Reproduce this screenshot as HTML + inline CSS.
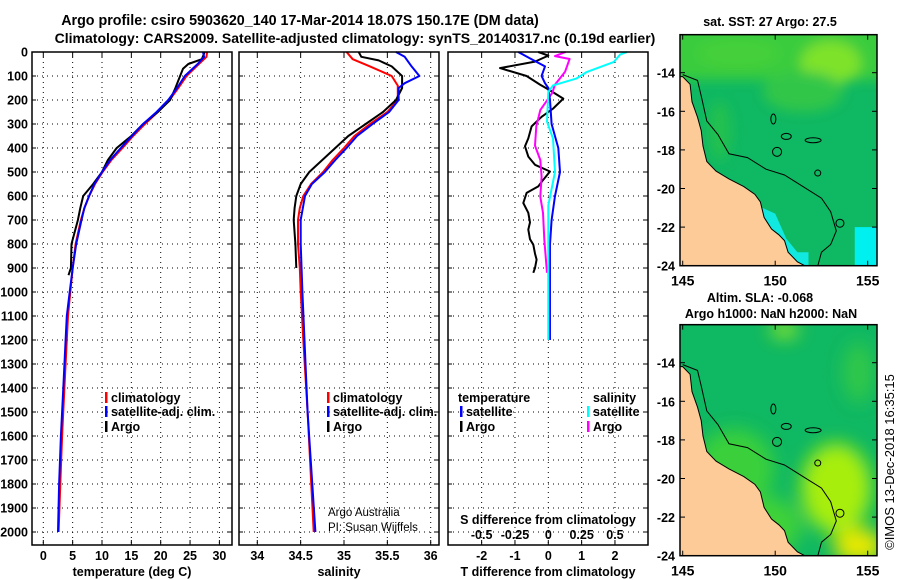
<!DOCTYPE html>
<html><head><meta charset="utf-8"><style>
html,body{margin:0;padding:0;background:#fff}
svg{display:block}
text{font-family:"Liberation Sans",Arial,sans-serif;font-weight:bold;font-size:12.5px;fill:#000}
</style></head><body>
<svg id="fig" width="900" height="580" viewBox="0 0 900 580" xmlns="http://www.w3.org/2000/svg">
<text x="300" y="25" text-anchor="middle" style="font-size:14.3px">Argo profile: csiro 5903620_140 17-Mar-2014 18.07S 150.17E (DM data)</text>
<text x="355" y="43" text-anchor="middle" style="font-size:14px">Climatology: CARS2009. Satellite-adjusted climatology: synTS_20140317.nc (0.19d earlier)</text>
<text x="770" y="26" text-anchor="middle">sat. SST: 27 Argo: 27.5</text>
<text x="760" y="302" text-anchor="middle">Altim. SLA: -0.068</text>
<text x="771" y="318" text-anchor="middle">Argo h1000: NaN h2000: NaN</text>
<text transform="translate(894,462) rotate(-90)" text-anchor="middle" style="font-weight:normal;font-size:13px">©IMOS 13-Dec-2018 16:35:15</text>
<text x="328" y="516" style="font-weight:normal;font-size:11.5px">Argo Australia</text>
<text x="328" y="531" style="font-weight:normal;font-size:11.5px">PI: Susan Wijffels</text>
</svg>
<script>
// ---- data (depth m, value) ----
const tDepth = [0,20,50,100,150,200,250,300,350,400,450,500,550,600,650,700,800,900,1000,1100,1200,1400,1600,1800,2000];
const tClim  = [27.9,27.8,26.5,24.4,23,21.5,19.5,17.3,15.3,13.5,11.6,10.1,8.8,7.8,7.0,6.4,5.5,5.0,4.6,4.2,4.0,3.6,3.2,2.9,2.6];
const tSat   = [27.2,27.4,26.3,24.1,22.8,21.3,19.3,17.0,15.1,13.2,11.4,10.0,8.7,7.8,7.0,6.5,5.6,5.0,4.5,4.0,3.8,3.4,3.0,2.7,2.5];
const tArgoDepth = [0,30,50,70,100,150,200,250,300,350,400,450,500,550,600,650,700,800,900,930];
const tArgo  = [27.5,27,24.7,23.8,23.3,22.5,21.6,19.5,17,15,12.5,11,10,8.5,6.8,6.3,5.9,4.8,4.7,4.3];

const sDepth = [0,30,60,100,140,200,250,300,350,400,450,500,550,600,650,700,800,900,1000,1200,1500,2000];
const sClim  = [35.03,35.1,35.3,35.55,35.62,35.62,35.5,35.3,35.12,35.0,34.87,34.76,34.62,34.53,34.49,34.47,34.47,34.49,34.5,34.53,34.58,34.65];
const sSatDepth = [0,20,60,100,130,150,200,250,300,350,400,450,500,550,600,700,800,1000,1500,2000];
const sSat   = [35.6,35.7,35.78,35.87,35.7,35.63,35.63,35.52,35.33,35.15,35.03,34.9,34.78,34.63,34.55,34.5,34.5,34.52,34.58,34.67];
const sArgoDepth = [0,20,35,60,100,150,200,250,300,350,400,450,500,550,600,650,700,800,900];
const sArgo  = [35.17,35.2,35.4,35.55,35.67,35.67,35.6,35.45,35.25,35.05,34.9,34.75,34.6,34.5,34.45,34.43,34.42,34.44,34.45];

const dTSatDepth = [0,30,60,80,100,130,150,200,300,400,500,600,700,800,1000,1200];
const dTSat  = [-0.9,-0.5,-0.1,-0.15,-0.2,-0.1,0,0.05,0.1,0.3,0.35,0.2,0.1,0.05,0.05,0.05];
const dTArgoDepth = [0,15,40,67,100,136,160,194,235,270,310,360,393,436,470,498,532,560,587,629,670,710,740,780,803,840,865,900,920];
const dTArgo = [-0.3,0,-0.4,-1.45,-0.65,-0.25,0.05,0.45,0.15,-0.2,-0.5,-0.6,-0.7,-0.6,-0.4,0.05,-0.15,-0.3,-0.65,-0.75,-0.6,-0.55,-0.6,-0.55,-0.45,-0.4,-0.35,-0.4,-0.45];
const dSSatDepth = [0,10,42,83,111,139,167,290,361,500,639,800,1000,1200];
const dSSat  = [0.59,0.54,0.49,0.29,0.21,0.035,0,-0.01,0.035,0.05,0,0,0,0];
const dSArgoDepth = [0,17,29,83,136,170,242,310,390,450,520,603,670,781,920];
const dSArgo = [0.13,0.05,0.16,0.125,0.05,0.03,-0.06,-0.09,-0.1,-0.06,-0.05,-0.06,-0.04,-0.03,-0.01];

const depthTicks = [0,100,200,300,400,500,600,700,800,900,1000,1100,1200,1300,1400,1500,1600,1700,1800,1900,2000];
const tTicks = [0,5,10,15,20,25,30];
const sTicks = [34,34.5,35,35.5,36];
const dTTicks = [-2,-1,0,1,2];
const dSTicks = ["-0.5","-0.25","0","0.25","0.5"];

// ---- axes ----
const NS='http://www.w3.org/2000/svg';
const svg=document.getElementById('fig');
const TOP=52, BOT=545;
const yD = d => TOP + d*0.24;
const xT = t => 43.3 + t*5.87;
const xS = s => 257.3 + (s-34)*86.7;
const xDT = v => 548.3 + v*33.33;
const xDS = v => 548.3 + v*133.3;
function mk(tag, attrs, parent){const e=document.createElementNS(NS,tag);for(const k in attrs)e.setAttribute(k,attrs[k]);(parent||svg).appendChild(e);return e;}
function txt(x,y,s,anchor,parent){const e=mk('text',{x:x,y:y,'text-anchor':anchor||'middle'},parent);e.textContent=s;return e;}

const panels=[{x0:32,x1:232,name:'temperature-panel'},{x0:239,x1:439,name:'salinity-panel'},{x0:448,x1:648,name:'difference-panel'}];
panels.forEach(p=>{
  const g=mk('g',{});
  
  
  p.g=g;
  depthTicks.forEach(d=>{
    if(d>0&&d<2000+1){const l=mk('line',{x1:p.x0,x2:p.x1,y1:yD(d),y2:yD(d),stroke:'#000','stroke-width':1,'stroke-dasharray':'1,4'},g);
    
    }
    mk('line',{x1:p.x0,x2:p.x0+4,y1:yD(d),y2:yD(d),stroke:'#000'},g);
    mk('line',{x1:p.x1,x2:p.x1-4,y1:yD(d),y2:yD(d),stroke:'#000'},g);
  });
});
// y tick labels
depthTicks.forEach(d=>{
  const t=txt(28,yD(d)+4.5,String(d),'end');
  
  
});
function vgrid(p,x){
  const l=mk('line',{x1:x,x2:x,y1:TOP,y2:BOT,stroke:'#000','stroke-dasharray':'1,4'},p.g);
  
  
  mk('line',{x1:x,x2:x,y1:BOT,y2:BOT-5,stroke:'#000'},p.g);
  mk('line',{x1:x,x2:x,y1:TOP,y2:TOP+5,stroke:'#000'},p.g);
}
tTicks.forEach(t=>{vgrid(panels[0],xT(t));const e=txt(xT(t),560,String(t));
  
  });
sTicks.forEach(s=>{vgrid(panels[1],xS(s));const e=txt(xS(s),560,String(s));
  
  });
dTTicks.forEach(v=>{vgrid(panels[2],xDT(v));const e=txt(xDT(v),560,String(v));
  
  });
dSTicks.forEach(v=>{const e=txt(xDS(parseFloat(v)),539,v);
  
  });
[['temperature (deg C)',132,'temperature-axis-title'],['salinity',339,'salinity-axis-title'],['T difference from climatology',548,'t-diff-axis-title']].forEach(a=>{
  const e=txt(a[1],576,a[0]);
  
  
});
const sdt=txt(548,524,'S difference from climatology');



function series(p,depths,vals,xf,color,name,w){
  const pts=depths.map((d,i)=>xf(vals[i]).toFixed(1)+','+yD(d).toFixed(1)).join(' ');
  const l=mk('polyline',{points:pts,fill:'none',stroke:color,'stroke-width':w||2,'stroke-linejoin':'round'},p.g);
  
  
}
series(panels[0],tDepth,tClim,xT,'#f00','temp-climatology-line');
series(panels[0],tArgoDepth,tArgo,xT,'#000','temp-argo-line');
series(panels[0],tDepth,tSat,xT,'#00f','temp-satellite-line');
series(panels[1],sDepth,sClim,xS,'#f00','sal-climatology-line');
series(panels[1],sArgoDepth,sArgo,xS,'#000','sal-argo-line');
series(panels[1],sSatDepth,sSat,xS,'#00f','sal-satellite-line');
series(panels[2],dTArgoDepth,dTArgo,xDT,'#000','t-diff-argo-line');
series(panels[2],dSArgoDepth,dSArgo,xDS,'#f0f','s-diff-argo-line');
series(panels[2],dTSatDepth,dTSat,xDT,'#00f','t-diff-satellite-line');
series(panels[2],dSSatDepth,dSSat,xDS,'#0ff','s-diff-satellite-line');
panels.forEach(p=>{const r=mk('rect',{x:p.x0,y:TOP,width:p.x1-p.x0,height:BOT-TOP,fill:'none',stroke:'#000','stroke-width':1.5},p.g);
  
  });

// legends
function legend(x,y,color,label){
  const g=mk('g',{});
  
  
  mk('rect',{x:x,y:y-10,width:2.5,height:11,fill:color},g);
  txt(x+6,y,label,'start',g);
}
legend(105,402,'#f00','climatology');legend(105,416,'#00f','satellite-adj. clim.');legend(105,431,'#000','Argo');
legend(327,402,'#f00','climatology');legend(327,416,'#00f','satellite-adj. clim.');legend(327,431,'#000','Argo');
const lt=txt(458,402,'temperature','start');
const ls=txt(593,402,'salinity','start');
legend(460,416,'#00f','satellite');legend(460,431,'#000','Argo');
legend(587,416,'#0ff','satellite');legend(587,431,'#f0f','Argo');

// ---- maps ----
const lonX = lon => 682.7+(lon-145)*18.5;
const coast=[[145,-14.2],[145.4,-14.6],[145.5,-15.5],[145.8,-16.3],[146,-17],[146.1,-17.8],[146.3,-18.6],[146.8,-19.1],[147.5,-19.5],[148.3,-19.9],[148.9,-20.3],[149.2,-20.7],[149.4,-21.5],[149.8,-22.1],[150.2,-22.4],[150.5,-22.7],[150.7,-23.3],[151.2,-23.8],[151.6,-24.0]];
const contour=[[145,-14.1],[145.8,-14.4],[146,-15.2],[146.3,-16.5],[146.9,-17.2],[147.5,-18.2],[148.5,-18.4],[149.5,-19],[150.5,-19.3],[151.5,-19.9],[152.5,-20.5],[153,-21.2],[153.3,-22.2],[153,-22.9],[152.5,-23.3],[152.3,-24]];
function drawMap(y0,name,sst){
  const latY = lat => y0+(-14-lat)*19.3;
  const top=latY(-12.03), bot=latY(-24);
  const g=mk('g',{});
  
  
  const cid='clip'+name;
  const cp=mk('clipPath',{id:cid},g);mk('rect',{x:680,y:top,width:197,height:bot-top},cp);
  const inner=mk('g',{'clip-path':'url(#'+cid+')'},g);
  const fid='blur'+name;
  const f=mk('filter',{id:fid,x:'-50%',y:'-50%',width:'200%',height:'200%'},g);mk('feGaussianBlur',{stdDeviation:sst?6:9},f);
  mk('rect',{x:680,y:top,width:197,height:bot-top,fill:'#0fb862'},inner);
  const bl=mk('g',{filter:'url(#'+fid+')'},inner);
  if(sst){
    mk('rect',{x:670,y:top-10,width:220,height:55,fill:'#3acc3c'},bl);
    mk('ellipse',{cx:lonX(153),cy:latY(-13.5),rx:30,ry:22,fill:'#7ee22a'},bl);
    mk('ellipse',{cx:lonX(148),cy:latY(-13),rx:40,ry:14,fill:'#44d03a'},bl);
    mk('ellipse',{cx:lonX(151.5),cy:latY(-15),rx:40,ry:20,fill:'#30c648'},bl);
    mk('ellipse',{cx:lonX(147),cy:latY(-17),rx:12,ry:30,fill:'#20c050'},bl);
    mk('rect',{x:lonX(154.3),y:latY(-22),width:30,height:60,fill:'#00f0f0'},inner);
    mk('polygon',{points:[[149.3,-21],[150,-21.3],[150.6,-22.6],[151.2,-23.3],[151.8,-23.3],[151.8,-24],[150.5,-24],[149.3,-22.5]].map(c=>lonX(c[0])+','+latY(c[1])).join(' '),fill:'#10e8e0'},inner);
  } else {
    mk('ellipse',{cx:lonX(147.8),cy:latY(-19.5),rx:40,ry:40,fill:'#3ad03a'},bl);
    mk('ellipse',{cx:lonX(149.5),cy:latY(-22.5),rx:35,ry:30,fill:'#40d238'},bl);
    mk('ellipse',{cx:lonX(153.3),cy:latY(-20.5),rx:35,ry:45,fill:'#a8ee10'},bl);
    mk('ellipse',{cx:lonX(154.5),cy:latY(-23.5),rx:25,ry:18,fill:'#e8e800'},bl);
    mk('ellipse',{cx:lonX(150.5),cy:latY(-12.3),rx:14,ry:8,fill:'#9ae820'},bl);
    mk('ellipse',{cx:lonX(154.5),cy:latY(-14.5),rx:15,ry:30,fill:'#30c84a'},bl);
  }
  const land=coast.map(c=>lonX(c[0]).toFixed(1)+','+latY(c[1]).toFixed(1)).join(' ')+' '+lonX(145)+','+(bot+2)+' '+(lonX(145)-5)+','+(bot+2)+' '+(lonX(145)-5)+','+latY(-14.2);
  const lp=mk('polygon',{points:land,fill:'#fccb98',stroke:'#000','stroke-width':1},inner);
  
  
  mk('polyline',{points:contour.map(c=>lonX(c[0]).toFixed(1)+','+latY(c[1]).toFixed(1)).join(' '),fill:'none',stroke:'#000','stroke-width':1},inner);
  [[150.1,-18.1,4.5,4.5],[152.05,-17.5,8,2.5],[152.3,-19.2,3,3],[153.5,-21.8,4,4],[150.6,-17.3,5,3],[149.9,-16.4,2.5,5]].forEach(r=>{
    mk('ellipse',{cx:lonX(r[0]),cy:latY(r[1]),rx:r[2],ry:r[3],fill:'none',stroke:'#000'},inner);
  });
  mk('rect',{x:680,y:top,width:197,height:bot-top,fill:'none',stroke:'#000','stroke-width':1.5},g);
  [145,150,155].forEach(l=>{
    mk('line',{x1:lonX(l),x2:lonX(l),y1:bot,y2:bot-5,stroke:'#000'},g);
    mk('line',{x1:lonX(l),x2:lonX(l),y1:top,y2:top+5,stroke:'#000'},g);
    const e=txt(lonX(l),bot+20,String(l),'middle',g);
    e.setAttribute('style','font-size:14px');
    
    
  });
  [-14,-16,-18,-20,-22,-24].forEach(l=>{
    mk('line',{x1:680,x2:685,y1:latY(l),y2:latY(l),stroke:'#000'},g);
    mk('line',{x1:877,x2:872,y1:latY(l),y2:latY(l),stroke:'#000'},g);
    const e=txt(675,latY(l)+5,String(l),'end',g);
    
    
  });
}
drawMap(72.7,'sst-map',true);
drawMap(362.7,'sla-map',false);
</script>
</body></html>
